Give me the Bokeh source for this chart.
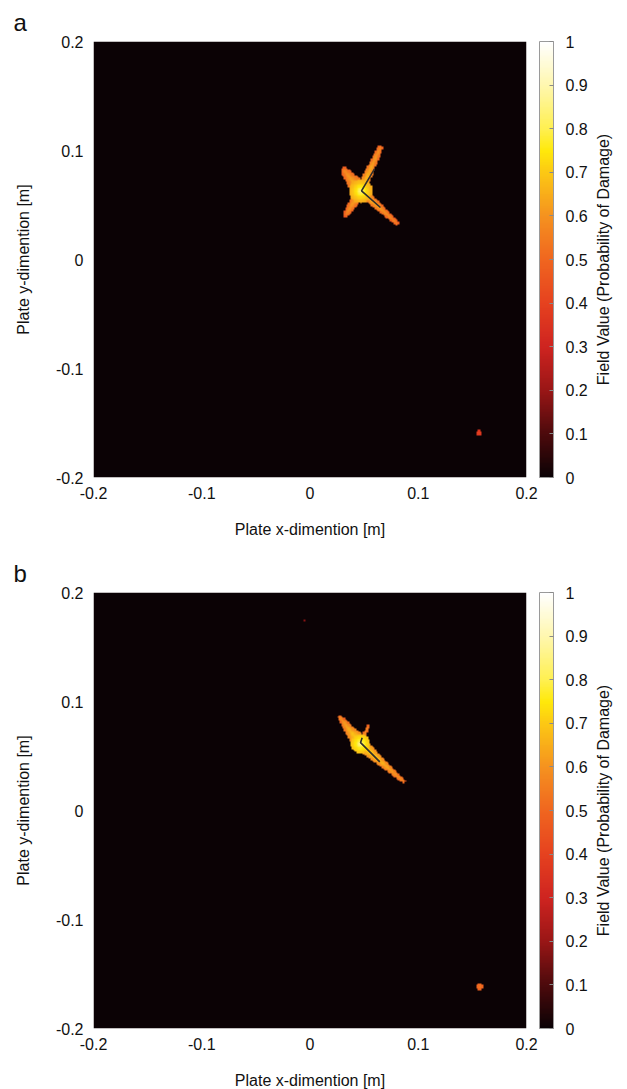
import numpy as np
from math import pi
from bokeh.plotting import figure
from bokeh.models import LinearColorMapper, ColorBar, FixedTicker, Title, Label
from bokeh.layouts import column, row
from bokeh.embed import file_html
from bokeh.resources import INLINE

# Plate extent [m] and axis ticks
X_MIN, X_MAX = -0.2, 0.2
Y_MIN, Y_MAX = -0.2, 0.2
AXIS_TICKS = [-0.2, -0.1, 0, 0.1, 0.2]
AXIS_TICK_LABELS = ["-0.2", "-0.1", "0", "0.1", "0.2"]
CBAR_TICKS = [0, 0.1, 0.2, 0.3, 0.4, 0.5, 0.6, 0.7, 0.8, 0.9, 1]
CBAR_TICK_LABELS = ["0", "0.1", "0.2", "0.3", "0.4", "0.5", "0.6", "0.7", "0.8", "0.9", "1"]
CBAR_TITLE = "Field Value (Probability of Damage)"

# ---- Case a: damage estimate -------------------------------------------
# hot-spot core: x, y, radius, value at centre, value at rim
A_CORE = (0.047, 0.063, 0.011, 0.93, 0.64)
# damage arms radiating from the core
A_ARM_TIP_X = [0.065, 0.0805, 0.0321, 0.0337]
A_ARM_TIP_Y = [0.1028, 0.0333, 0.0814, 0.0416]
A_ARM_HW_ROOT = [0.0050, 0.0047, 0.0090, 0.0058]
A_ARM_HW_TIP = [0.0026, 0.0021, 0.0038, 0.0029]
A_ARM_V_ROOT = [0.71, 0.69, 0.69, 0.67]
A_ARM_V_TIP = [0.59, 0.57, 0.59, 0.58]
# isolated spots: x, y, radius, peak value
A_SPOT_X = [0.1566]
A_SPOT_Y = [-0.1596]
A_SPOT_R = [0.0028]
A_SPOT_V = [0.42]
# crack path
A_CRACK_X = [0.0596, 0.0476, 0.0651]
A_CRACK_Y = [0.0832, 0.0630, 0.0477]

# ---- Case b: damage estimate -------------------------------------------
B_CORE = (0.0467, 0.0614, 0.009, 0.93, 0.68)
B_ARM_TIP_X = [0.0275, 0.0543, 0.0866]
B_ARM_TIP_Y = [0.0859, 0.0783, 0.0268]
B_ARM_HW_ROOT = [0.0076, 0.0031, 0.0062]
B_ARM_HW_TIP = [0.0021, 0.0011, 0.0019]
B_ARM_V_ROOT = [0.75, 0.67, 0.75]
B_ARM_V_TIP = [0.59, 0.57, 0.59]
B_SPOT_X = [0.1575, -0.005]
B_SPOT_Y = [-0.1623, 0.175]
B_SPOT_R = [0.0030, 0.0012]
B_SPOT_V = [0.56, 0.22]
B_CRACK_X = [0.0482, 0.0467, 0.0645]
B_CRACK_Y = [0.0667, 0.0623, 0.0446]

# colour scale anchor colours (black - red - orange - yellow - white)
HEAT_STOPS = [0.0, 0.1, 0.2, 0.3, 0.4, 0.5, 0.6, 0.7, 0.75, 0.8, 0.9, 1.0]
HEAT_COLORS = ["#0b0205", "#4e0a0c", "#9a1616", "#cf2420", "#e6421f", "#f0661f",
               "#f5921f", "#fcc814", "#ffe90a", "#fff050", "#fff7ae", "#ffffff"]

FONT = "Liberation Sans"
N_GRID = 320
FRAME_W, FRAME_H = 433, 436


def build_palette(stops, colors, n=256):
    rgb = np.array([[int(c[i:i + 2], 16) for i in (1, 3, 5)] for c in colors], float)
    t = np.linspace(0, 1, n)
    chans = [np.interp(t, stops, rgb[:, k]) for k in range(3)]
    return ["#%02x%02x%02x" % (int(round(r)), int(round(g)), int(round(b)))
            for r, g, b in zip(*chans)]


def damage_field(core, tips_x, tips_y, hw0, hw1, v0, v1, sx, sy, sr, sv):
    xs = np.linspace(X_MIN, X_MAX, N_GRID)
    ys = np.linspace(Y_MIN, Y_MAX, N_GRID)
    X, Y = np.meshgrid(xs, ys)
    F = np.zeros_like(X)
    cx, cy, r, vc, vr = core
    for tx, ty, w0, w1, a0, a1 in zip(tips_x, tips_y, hw0, hw1, v0, v1):
        vx, vy = tx - cx, ty - cy
        t = np.clip(((X - cx) * vx + (Y - cy) * vy) / (vx * vx + vy * vy), 0, 1)
        dist = np.hypot(X - (cx + t * vx), Y - (cy + t * vy))
        hw = w0 + (w1 - w0) * t
        val = a0 + (a1 - a0) * t - 0.13 * dist / hw
        F = np.where(dist <= hw, np.maximum(F, val), F)
    d = np.hypot(X - cx, Y - cy)
    F = np.where(d <= r, np.maximum(F, vc + (vr - vc) * np.sqrt(d / r)), F)
    for x0, y0, rr, vv in zip(sx, sy, sr, sv):
        d = np.hypot(X - x0, Y - y0)
        F = np.where(d <= rr, np.maximum(F, vv - 0.08 * d / rr), F)
    return F


palette = build_palette(HEAT_STOPS, HEAT_COLORS)


def heat_panel(letter, field, mapper, crack_x, crack_y, top, bottom):
    p = figure(frame_width=FRAME_W, frame_height=FRAME_H,
               x_range=(X_MIN, X_MAX), y_range=(Y_MIN, Y_MAX),
               output_backend="svg", toolbar_location=None,
               min_border_left=93, min_border_right=13,
               min_border_top=top, min_border_bottom=bottom)
    p.image(image=[field], x=X_MIN, y=Y_MIN, dw=X_MAX - X_MIN, dh=Y_MAX - Y_MIN,
            color_mapper=mapper)
    p.line(crack_x, crack_y, line_color="#2e2e2e", line_width=1.6)

    p.grid.visible = False
    p.outline_line_color = None
    for ax in (p.xaxis[0], p.yaxis[0]):
        ax.ticker = FixedTicker(ticks=AXIS_TICKS)
        ax.major_label_overrides = dict(zip(AXIS_TICKS, AXIS_TICK_LABELS))
        ax.major_tick_out = 0
        ax.major_tick_in = 0
        ax.minor_tick_line_color = None
        ax.axis_line_color = None
        ax.major_label_text_font = FONT
        ax.major_label_text_font_size = "16px"
        ax.major_label_text_color = "#111111"
        ax.axis_label_text_font = FONT
        ax.axis_label_text_font_size = "16px"
        ax.axis_label_text_font_style = "normal"
        ax.axis_label_text_color = "#111111"
    p.xaxis.axis_label = "Plate x-dimention [m]"
    p.yaxis.axis_label = "Plate y-dimention [m]"
    p.xaxis.major_label_standoff = 9
    p.xaxis.axis_label_standoff = 19
    p.yaxis.major_label_standoff = 10
    p.yaxis.axis_label_standoff = 21

    p.title = Title(text=letter, align="left", offset=-80, standoff=12,
                    text_font=FONT, text_font_size="24px", text_font_style="normal",
                    text_color="#111111")
    return p


def scale_panel(mapper, top, bottom):
    # side strip holding the colour scale and its vertical caption
    side_w = 88
    s = figure(frame_width=side_w, frame_height=FRAME_H,
               x_range=(0, side_w), y_range=(0, FRAME_H),
               output_backend="svg", toolbar_location=None,
               min_border_left=0, min_border_right=0,
               min_border_top=top, min_border_bottom=bottom)
    s.axis.visible = False
    s.grid.visible = False
    s.outline_line_color = None
    cbar = ColorBar(color_mapper=mapper, ticker=FixedTicker(ticks=CBAR_TICKS),
                    major_label_overrides=dict(zip(CBAR_TICKS, CBAR_TICK_LABELS)),
                    width=14, height=FRAME_H, padding=0, margin=0, location=(0, 0),
                    label_standoff=12,
                    bar_line_color="#9a9a9a", bar_line_width=1,
                    major_tick_line_color="#8a8a8a", major_tick_in=4, major_tick_out=0,
                    minor_tick_line_color=None,
                    major_label_text_font=FONT, major_label_text_font_size="16px",
                    major_label_text_color="#111111",
                    background_fill_color=None, border_line_color=None)
    s.add_layout(cbar, "center")
    s.add_layout(Label(x=64, y=FRAME_H / 2, angle=pi / 2, text=CBAR_TITLE,
                       text_align="center", text_baseline="middle",
                       text_font=FONT, text_font_size="16px", text_color="#111111"))
    return s


field_a = damage_field(A_CORE, A_ARM_TIP_X, A_ARM_TIP_Y, A_ARM_HW_ROOT, A_ARM_HW_TIP,
                       A_ARM_V_ROOT, A_ARM_V_TIP, A_SPOT_X, A_SPOT_Y, A_SPOT_R, A_SPOT_V)
field_b = damage_field(B_CORE, B_ARM_TIP_X, B_ARM_TIP_Y, B_ARM_HW_ROOT, B_ARM_HW_TIP,
                       B_ARM_V_ROOT, B_ARM_V_TIP, B_SPOT_X, B_SPOT_Y, B_SPOT_R, B_SPOT_V)

mapper_a = LinearColorMapper(palette=palette, low=0, high=1)
mapper_b = LinearColorMapper(palette=palette, low=0, high=1)

pa = heat_panel("a", field_a, mapper_a, A_CRACK_X, A_CRACK_Y, top=40, bottom=70)
sa = scale_panel(mapper_a, top=40, bottom=70)
pb = heat_panel("b", field_b, mapper_b, B_CRACK_X, B_CRACK_Y, top=45, bottom=60)
sb = scale_panel(mapper_b, top=45, bottom=60)

layout = column(row(pa, sa, spacing=0), row(pb, sb, spacing=0), spacing=0)
open("out.html", "w").write(file_html(layout, INLINE))
